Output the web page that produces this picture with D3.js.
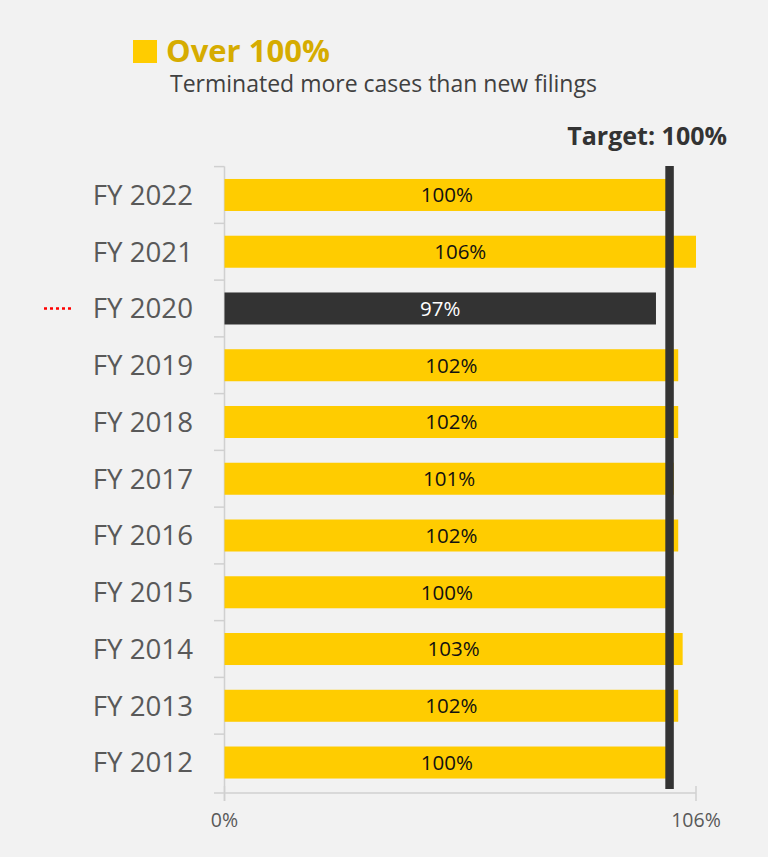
<!DOCTYPE html>
<html>
<head>
<meta charset="utf-8">
<script src="https://cdn.jsdelivr.net/npm/d3@7"></script>
<style>
  html, body { margin: 0; padding: 0; background: #f2f2f2; }
  svg { display: block; }
</style>
</head>
<body>
<svg id="chart" width="768" height="857"></svg>
<script>
// Clearance rate by fiscal year (terminations as % of new filings)
const years = ["FY 2022", "FY 2021", "FY 2020", "FY 2019", "FY 2018", "FY 2017",
               "FY 2016", "FY 2015", "FY 2014", "FY 2013", "FY 2012"];
const rates = [100, 106, 97, 102, 102, 101, 102, 100, 103, 102, 100];
const targetRate = 100;
const axisTicks = [0, 106];
const highlightYear = "FY 2020";

const W = 768, H = 857;
const FONT = "'Open Sans', 'Noto Sans', sans-serif";
const yellow = "#ffcc00", dark = "#333333", grey = "#595959", lineGrey = "#d0d0d0";

const svg = d3.select("#chart");
svg.append("rect").attr("width", W).attr("height", H).attr("fill", "#f2f2f2");

const x = d3.scaleLinear().domain([0, 106]).range([224.5, 696]);
const y = d3.scaleBand().domain(years).range([166.6, 790.9])
  .paddingInner(0.436).paddingOuter(0.218);

const data = years.map((yr, i) => ({ year: yr, rate: rates[i] }));

// Legend block
svg.append("rect").attr("x", 133).attr("y", 40).attr("width", 24).attr("height", 23).attr("fill", yellow);
svg.append("text").attr("x", 166).attr("y", 62)
  .attr("font-family", FONT).attr("font-weight", 700).attr("font-size", 31)
  .attr("fill", "#d6ac00").text("Over 100%");
svg.append("text").attr("x", 170).attr("y", 92)
  .attr("font-family", FONT).attr("font-size", 23)
  .attr("fill", "#404040").text("Terminated more cases than new filings");

// Target caption
svg.append("text").attr("x", 727).attr("y", 145).attr("text-anchor", "end")
  .attr("font-family", FONT).attr("font-weight", 700).attr("font-size", 25)
  .attr("fill", "#333").text("Target: " + targetRate + "%");

// Y axis line with ticks between categories
const yAxisG = svg.append("g");
yAxisG.append("line").attr("x1", x(0)).attr("x2", x(0))
  .attr("y1", y.range()[0]).attr("y2", 801).attr("stroke", lineGrey).attr("stroke-width", 1.5);
const bounds = d3.range(years.length).map(i => y.range()[0] + i * y.step());
yAxisG.selectAll("line.tk").data(bounds).join("line").attr("class", "tk")
  .attr("x1", 214).attr("x2", x(0)).attr("y1", d => d).attr("y2", d => d)
  .attr("stroke", lineGrey).attr("stroke-width", 1.5);

// Category labels
svg.selectAll("text.cat").data(years).join("text").attr("class", "cat")
  .attr("x", 193).attr("y", d => y(d) + y.bandwidth() / 2)
  .attr("dy", "0.36em").attr("text-anchor", "end")
  .attr("font-family", FONT).attr("font-size", 27.7)
  .attr("fill", grey).text(d => d);

// Dotted marker beside the highlighted year
svg.append("line").attr("x1", 44).attr("x2", 74)
  .attr("y1", y(highlightYear) + y.bandwidth() / 2).attr("y2", y(highlightYear) + y.bandwidth() / 2)
  .attr("stroke", "#ff0000").attr("stroke-width", 2.5).attr("stroke-dasharray", "3,3");

// Bars
svg.selectAll("rect.bar").data(data).join("rect").attr("class", "bar")
  .attr("x", x(0)).attr("y", d => y(d.year))
  .attr("width", d => x(d.rate) - x(0)).attr("height", y.bandwidth())
  .attr("fill", d => d.rate < targetRate ? dark : yellow);

// Bar value labels
svg.selectAll("text.val").data(data).join("text").attr("class", "val")
  .attr("x", d => (x(0) + x(d.rate)) / 2).attr("y", d => y(d.year) + y.bandwidth() / 2)
  .attr("dy", "0.36em").attr("text-anchor", "middle")
  .attr("font-family", FONT).attr("font-size", 20.5)
  .attr("fill", d => d.rate < targetRate ? "#ffffff" : "#111111")
  .text(d => d.rate + "%");

// X axis
const xAxisY = 793;
svg.append("line").attr("x1", 214).attr("x2", x(106)).attr("y1", xAxisY).attr("y2", xAxisY)
  .attr("stroke", lineGrey).attr("stroke-width", 1.5);
svg.selectAll("line.xt").data(axisTicks).join("line").attr("class", "xt")
  .attr("x1", d => x(d)).attr("x2", d => x(d)).attr("y1", 786).attr("y2", 801)
  .attr("stroke", lineGrey).attr("stroke-width", 1.5);
svg.selectAll("text.xl").data(axisTicks).join("text").attr("class", "xl")
  .attr("x", d => x(d)).attr("y", 827).attr("text-anchor", "middle")
  .attr("font-family", FONT).attr("font-size", 19.5)
  .attr("fill", grey).text(d => d + "%");

// Target line
svg.append("rect").attr("x", x(targetRate) - 4).attr("y", 166)
  .attr("width", 8.5).attr("height", 789 - 166).attr("fill", dark);
</script>
</body>
</html>
